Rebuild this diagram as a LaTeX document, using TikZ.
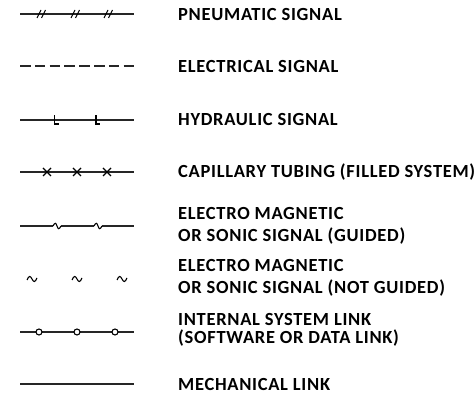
\documentclass[tikz,border=0pt]{standalone}
\usepackage{fontspec}
\setmainfont{Carlito}
\begin{document}
\begin{tikzpicture}[x=1pt,y=-1pt,
  sig/.style={line width=1.1pt,black!85},
  symb/.style={line width=1.1pt,black},
  lbl/.style={anchor=base west,inner sep=0pt,font=\fontsize{18.5}{21}\selectfont\bfseries\addfontfeature{LetterSpace=3.8}}]
\useasboundingbox (0,0) rectangle (475,396);
% pneumatic
\coordinate (p1) at (20,14); \coordinate (p2) at (134,14);
\draw[sig] (p1) -- (p2);
\foreach \x in {42,76,109}{
  \draw[symb] (\x-5,18) -- (\x-1,10);
  \draw[symb] (\x-0.5,18) -- (\x+3.5,10);
}
% electrical
\coordinate (e1) at (20,66); \coordinate (e2) at (134,66);
\draw[sig,dash pattern=on 10.5pt off 4.3pt] (e1) -- (e2);
% hydraulic
\coordinate (h1) at (20,120); \coordinate (h2) at (134,120);
\draw[sig] (h1) -- (h2);
\foreach \x in {54.5,96}{
  \draw[symb] (\x,115.5) -- (\x,124) -- (\x+4,124);
}
% capillary
\coordinate (c1) at (20,172); \coordinate (c2) at (134,172);
\draw[sig] (c1) -- (c2);
\foreach \x in {47,77,107}{
  \draw[symb] (\x-4,168) -- (\x+4,176);
  \draw[symb] (\x-4,176) -- (\x+4,168);
}
% EM guided
\coordinate (g1) at (20,226); \coordinate (g2) at (134,226);
\draw[sig] (g1) -- (53,226) (61,226) -- (94,226) (102,226) -- (g2);
\foreach \x in {57,98}{
  \draw[symb] (\x-4,226) .. controls (\x-2,222) and (\x-1,223) .. (\x,226) .. controls (\x+1,229) and (\x+2,230) .. (\x+4,226);
}
% EM not guided
\foreach \x in {32,77,122}{
  \draw[symb] (\x-5,280) .. controls (\x-3,275) and (\x-1.5,276) .. (\x,279) .. controls (\x+1.5,282) and (\x+3,283) .. (\x+5,278);
}
% internal link
\coordinate (i1) at (20,332); \coordinate (i2) at (134,332);
\draw[sig] (i1) -- (36,332) (42,332) -- (74,332) (80,332) -- (112,332) (118,332) -- (i2);
\foreach \x in {39,77,115}{
  \draw[symb] (\x,332) circle (3pt);
}
% mechanical
\coordinate (m1) at (20,384); \coordinate (m2) at (134,384);
\draw[sig] (m1) -- (m2);
% labels
\node[lbl] (t1) at (178,20.5) {PNEUMATIC SIGNAL};
\node[lbl] (t2) at (178,73) {ELECTRICAL SIGNAL};
\node[lbl] (t3) at (178,126) {HYDRAULIC SIGNAL};
\node[lbl] (t4) at (178,178) {CAPILLARY TUBING (FILLED SYSTEM)};
\node[lbl] (t5a) at (178,220) {ELECTRO MAGNETIC};
\node[lbl] (t5b) at (178,241.5) {OR SONIC SIGNAL (GUIDED)};
\node[lbl] (t6a) at (178,271.5) {ELECTRO MAGNETIC};
\node[lbl] (t6b) at (178,294) {OR SONIC SIGNAL (NOT GUIDED)};
\node[lbl] (t7a) at (178,325) {INTERNAL SYSTEM LINK};
\node[lbl] (t7b) at (178,344) {(SOFTWARE OR DATA LINK)};
\node[lbl] (t8) at (178,391) {MECHANICAL LINK};
\end{tikzpicture}
\end{document}
